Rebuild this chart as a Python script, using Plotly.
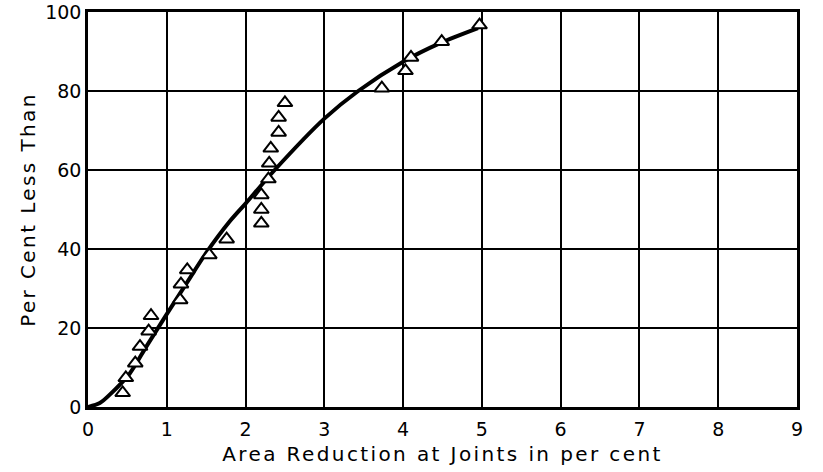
import plotly.graph_objects as go

# Observed points (triangles)
pts_x = [0.44, 0.48, 0.60, 0.66, 0.77, 0.80, 1.17, 1.18, 1.26, 1.54, 1.76,
         2.20, 2.20, 2.20, 2.29, 2.30, 2.32, 2.42, 2.42, 2.50,
         3.73, 4.03, 4.10, 4.49, 4.97]
pts_y = [3.6, 7.4, 11.1, 15.3, 19.2, 23.1, 27.1, 31.1, 34.7, 38.5, 42.5,
         46.5, 50.0, 53.7, 57.7, 61.7, 65.5, 69.5, 73.3, 77.0,
         80.7, 85.1, 88.5, 92.5, 96.7]

# Fitted curve
curve_x = [0, 0.15, 0.28, 0.53, 0.74, 1.0, 1.25, 1.5, 1.8, 2.0, 2.37, 3.0, 3.43, 4.0, 4.47, 4.95]
curve_y = [0, 1.0, 3.2, 8.5, 15.3, 23.5, 31.3, 39.0, 47.0, 51.5, 60.0, 73.0, 80.0, 87.4, 92.1, 95.9]

x_ticks = [0, 1, 2, 3, 4, 5, 6, 7, 8, 9]
y_ticks = [0, 20, 40, 60, 80, 100]

FONT = "DejaVu Sans"

fig = go.Figure()
fig.add_trace(go.Scatter(
    x=curve_x, y=curve_y, mode="lines",
    line=dict(color="black", width=4, shape="spline", smoothing=0.8),
    hoverinfo="skip", showlegend=False,
))
fig.add_trace(go.Scatter(
    x=pts_x, y=pts_y, mode="markers",
    marker=dict(symbol="triangle-up", size=13, color="white",
                line=dict(color="black", width=2)),
    showlegend=False, cliponaxis=False,
))

axis_common = dict(
    showgrid=True, gridcolor="black", gridwidth=1.5,
    showline=True, linecolor="black", linewidth=2.5, mirror=True,
    zeroline=False, ticks="", ticklen=0, automargin=False,
    tickfont=dict(family=FONT, size=19, color="black"),
)

x_title = '<span style="letter-spacing:2.4px">Area Reduction at Joints in per cent</span>'
y_title = '<span style="letter-spacing:2.4px">Per Cent Less Than</span>'

fig.update_xaxes(range=[0, 9], tickvals=x_ticks, ticktext=[str(v) for v in x_ticks],
                 ticklabelstandoff=3,
                 title=dict(text=x_title,
                            font=dict(family=FONT, size=20, color="black"), standoff=9),
                 **axis_common)
fig.update_yaxes(range=[0, 100], tickvals=y_ticks, ticktext=[str(v) for v in y_ticks],
                 title=dict(text=y_title,
                            font=dict(family=FONT, size=20, color="black"), standoff=5),
                 **axis_common)

fig.update_layout(
    width=823, height=472,
    margin=dict(l=88, r=26, t=12, b=65),
    plot_bgcolor="white", paper_bgcolor="white",
    font=dict(family=FONT, color="black"),
)

fig.write_html("out.html")
